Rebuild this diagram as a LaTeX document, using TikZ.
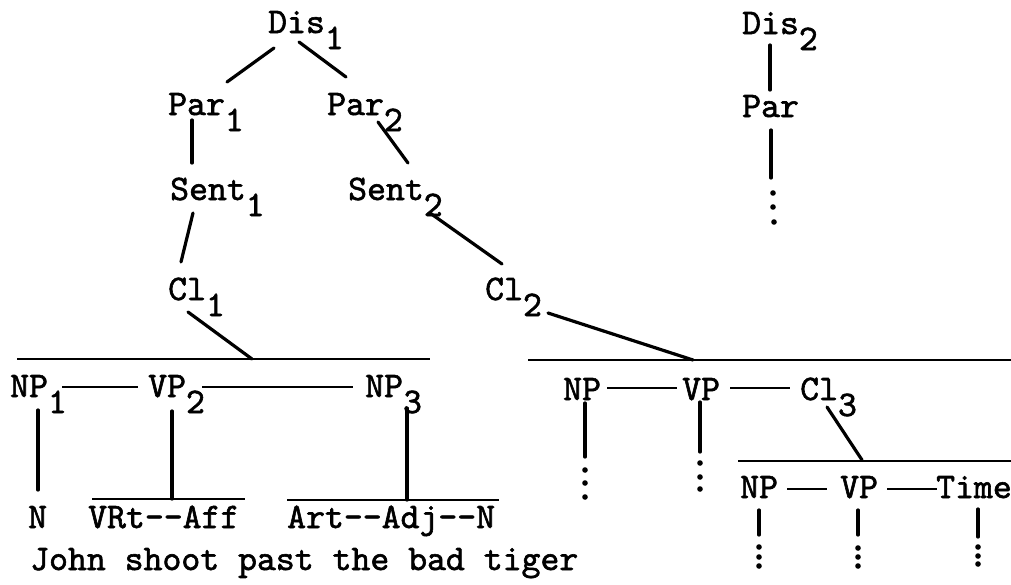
\documentclass[tikz,border=0pt]{standalone}
\usepackage{fontspec}
\newfontfamily\tw[FakeBold=1.6]{lmmono10-regular.otf}
\newcommand\sbs[1]{\raisebox{-16pt}{#1}}
\begin{document}
\begin{tikzpicture}[x=1pt,y=-1pt,
  every node/.style={inner sep=0pt, anchor=base west, font=\fontsize{36}{40}\selectfont\tw},
  ln/.style={line width=3.2pt, line cap=round},
  thin ln/.style={line width=2.2pt},
  bar/.style={line width=2.4pt},
  dotmark/.style={fill=black}]
\useasboundingbox (0,0) rectangle (1011,584);
\fill[white] (0,0) rectangle (1011,584);
% ---- left tree ----
\node (dis1) at (268,33) {Dis\sbs{1}};
\node (par1) at (168,115) {Par\sbs{1}};
\node (par2) at (327,115) {Par\sbs{2}};
\node (sent1) at (170,200) {Sent\sbs{1}};
\node (sent2) at (348,200) {Sent\sbs{2}};
\node (cl1) at (168,300) {Cl\sbs{1}};
\node (cl2) at (485,300) {Cl\sbs{2}};
\node (np1) at (10,397) {NP\sbs{1}};
\node (vp2) at (148,397) {VP\sbs{2}};
\node (np3) at (365,397) {NP\sbs{3}};
\node (n) at (28,528) {N};
\node (vrt) at (88,528) {VRt-{}-Aff};
\node (art) at (287,528) {Art-{}-Adj-{}-N};
\node (john) at (30,570) {John shoot past the bad tiger};
% ---- right tree ----
\node (dis2) at (742,34) {Dis\sbs{2}};
\node (par) at (742,117) {Par};
\node (npa) at (563,400) {NP};
\node (vpa) at (682,400) {VP};
\node (cl3) at (800,400) {Cl\sbs{3}};
\node (npb) at (740,498) {NP};
\node (vpb) at (840,498) {VP};
\node (time) at (936,498) {Time};
% ---- connector end points ----
\coordinate (d1a) at (274,48);  \coordinate (p1a) at (227,82);
\coordinate (d1b) at (299,42);  \coordinate (p2a) at (346,77);
\coordinate (p1b) at (192,120); \coordinate (s1a) at (192,163);
\coordinate (p2b) at (378,122); \coordinate (s2a) at (408,163);
\coordinate (s1b) at (193,213); \coordinate (c1a) at (181,262);
\coordinate (s2b) at (430,213); \coordinate (c2a) at (502,264);
\coordinate (c1b) at (188,312); \coordinate (bar1m) at (252,359);
\coordinate (bar1l) at (17,359); \coordinate (bar1r) at (430,359);
\coordinate (c2b) at (548,313); \coordinate (bar2m) at (693,360);
\coordinate (bar2l) at (528,360); \coordinate (bar2r) at (1011,360);
% NP1 VP2 NP3 row
\coordinate (h1a) at (62,387); \coordinate (h1b) at (138,387);
\coordinate (h2a) at (202,387); \coordinate (h2b) at (353,387);
\coordinate (v1a) at (38,410); \coordinate (v1b) at (38,490);
\coordinate (v2a) at (172,411); \coordinate (v2b) at (172,499);
\coordinate (bar3l) at (92,499); \coordinate (bar3r) at (245,499);
\coordinate (v3a) at (407,408); \coordinate (v3b) at (407,500);
\coordinate (bar4l) at (287,500); \coordinate (bar4r) at (499,500);
% right tree
\coordinate (d2a) at (770,45); \coordinate (pa) at (770,90);
\coordinate (pb) at (771,130); \coordinate (pc) at (771,178);
\coordinate (h3a) at (607,388); \coordinate (h3b) at (677,388);
\coordinate (h4a) at (730,388); \coordinate (h4b) at (790,388);
\coordinate (v4a) at (585,403); \coordinate (v4b) at (585,457);
\coordinate (v5a) at (700,402); \coordinate (v5b) at (700,452);
\coordinate (c3b) at (827,407); \coordinate (bar5m) at (862,460);
\coordinate (bar5l) at (738,461); \coordinate (bar5r) at (1011,461);
\coordinate (h5a) at (787,489); \coordinate (h5b) at (827,489);
\coordinate (h6a) at (887,489); \coordinate (h6b) at (937,489);
\coordinate (v6a) at (759,510); \coordinate (v6b) at (759,535);
\coordinate (v7a) at (858,510); \coordinate (v7b) at (858,535);
\coordinate (v8a) at (978,509); \coordinate (v8b) at (978,537);
% ---- draw ----
\draw[ln] (d1a) -- (p1a);
\draw[ln] (d1b) -- (p2a);
\draw[ln] (p1b) -- (s1a);
\draw[ln] (p2b) -- (s2a);
\draw[ln] (s1b) -- (c1a);
\draw[ln] (s2b) -- (c2a);
\draw[ln] (c1b) -- (bar1m);
\draw[ln] (c2b) -- (bar2m);
\draw[bar] (bar1l) -- (bar1r);
\draw[bar] (bar2l) -- (bar2r);
\draw[thin ln] (h1a) -- (h1b);
\draw[thin ln] (h2a) -- (h2b);
\draw[ln] (v1a) -- (v1b);
\draw[ln] (v2a) -- (v2b);
\draw[ln] (v3a) -- (v3b);
\draw[bar] (bar3l) -- (bar3r);
\draw[bar] (bar4l) -- (bar4r);
\draw[ln] (d2a) -- (pa);
\draw[ln] (pb) -- (pc);
\draw[thin ln] (h3a) -- (h3b);
\draw[thin ln] (h4a) -- (h4b);
\draw[ln] (v4a) -- (v4b);
\draw[ln] (v5a) -- (v5b);
\draw[ln] (c3b) -- (bar5m);
\draw[bar] (bar5l) -- (bar5r);
\draw[thin ln] (h5a) -- (h5b);
\draw[thin ln] (h6a) -- (h6b);
\draw[ln] (v6a) -- (v6b);
\draw[ln] (v7a) -- (v7b);
\draw[ln] (v8a) -- (v8b);
% ---- dots ----
\foreach \p in {(773,193),(773,207),(774,222),
                (585,470),(585,483),(585,497),
                (700,463),(700,477),(700,489),
                (759,547),(759,557),(759,566),
                (858,548),(858,557),(858,566),
                (978,547),(978,556),(978,564)}
  \fill[dotmark] \p circle (2.8);
\end{tikzpicture}
\end{document}
